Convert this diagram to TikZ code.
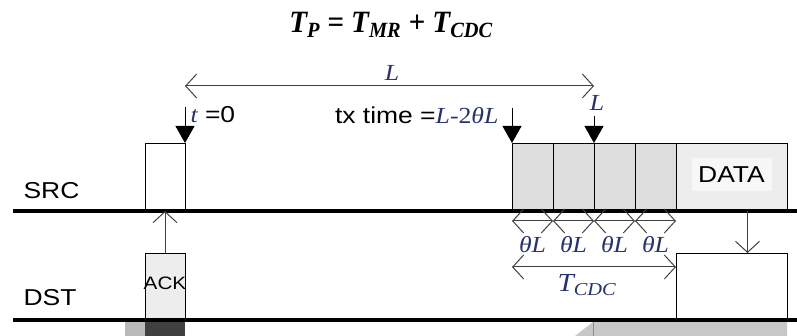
\documentclass[tikz,border=0pt]{standalone}
\usepackage{fontspec}
\setmainfont{Liberation Sans}[FakeStretch=1.15]
\newfontfamily\tms{Liberation Serif}[FakeStretch=1.12]
\newfontfamily\ttl{Liberation Serif}[FakeStretch=0.94]
\usepackage{xcolor}
\usepackage{tikz}
\usetikzlibrary{arrows.meta,positioning}

\definecolor{mathblue}{RGB}{40,50,110}
\newcommand{\lblfont}{\fontsize{23}{27}\selectfont}
\newcommand{\mathlbl}[1]{{\tms\itshape\color{mathblue}#1}}

\begin{document}
\begin{tikzpicture}[x=1pt, y=1pt, every node/.style={font=\lblfont},
  frame/.style={draw, line width=0.9pt, inner sep=0pt, outer sep=0pt, anchor=south west},
  cell/.style={frame, fill=black!13, minimum width=41pt, minimum height=68pt},
  axis/.style={line width=3.5pt},
  dim/.style={black!75, line width=1pt, {Straight Barb[length=11pt,width=24pt]}-{Straight Barb[length=11pt,width=24pt]}},
  signal/.style={black!75, line width=1pt, -{Straight Barb[length=11pt,width=24pt]}},
  pointer/.style={line width=0.9pt, -{Triangle[length=17pt,width=19pt]}}]

\useasboundingbox (0,0) rectangle (797,336);

% Title
\node[font=\fontsize{31}{35}\selectfont\ttl\bfseries\itshape] (title) at (391,311)
  {T\textsubscript{P} = T\textsubscript{MR} + T\textsubscript{CDC}};

% SRC and DST lines
\coordinate (srcL) at (13,125);
\coordinate (srcR) at (797,125);
\coordinate (dstL) at (13,16);
\coordinate (dstR) at (797,16);
\node[anchor=west] (src) at (20,145) {SRC};
\node[anchor=west] (dst) at (20,38) {DST};

% Bottom strips (next slots)
\fill[black!27] (125,0) rectangle (145,14);
\fill[black!75] (145,0) rectangle (185,14);
\fill[black!22] (575,0) -- (593,14) -- (787,14) -- (787,0) -- cycle;
\draw[black!45, line width=0.9pt] (593,0) -- (593,14);

% RTS box and ACK
\node[frame, minimum width=40pt, minimum height=68pt] (rts) at (145,125) {};
\node[frame, fill=black!7, minimum width=40pt, minimum height=67pt] (ack) at (145,16) {};
\node (acktxt) at (ack.center) [yshift=3pt, font=\fontsize{18}{21}\selectfont] {ACK};

% Contention cells and DATA
\node[cell] (c1) at (512,125) {};
\node[cell] (c2) at (c1.south east) {};
\node[cell] (c3) at (c2.south east) {};
\node[cell] (c4) at (c3.south east) {};
\node[frame, fill=black!7, minimum width=111pt, minimum height=68pt] (data) at (c4.south east) {};
\node[fill=white!97!black, inner sep=0pt, minimum width=80pt, minimum height=33pt] (datatxt)
  at ([yshift=2pt]data.center) {DATA};
\node[frame, minimum width=111pt, minimum height=67pt] (rx) at (676,16) {};

\draw[axis] (srcL) -- (srcR);
\draw[axis] (dstL) -- (dstR);

% Frame length L
\draw[dim] ([yshift=57pt]rts.north east) -- ([yshift=57pt]c3.north west);
\node (Llbl) at (392,263) {\mathlbl{L}};

% t = 0
\draw[pointer] ([yshift=36pt]rts.north east) -- (rts.north east);
\node[anchor=west] (t0) at (187,221) {\mathlbl{t} =0};

% tx time
\node[anchor=east] (txlbl) at (502,221) {tx time =\mathlbl{L}{\color{mathblue}\tms -2}\mathlbl{θL}};
\draw[pointer] ([yshift=35pt]c1.north west) -- (c1.north west);

% L marker
\node (Ltop) at (597,233) {\mathlbl{L}};
\draw[pointer] ([yshift=-2pt]Ltop.south -| c3.north west) -- (c3.north west);

% theta L spans
\foreach \c [count=\i] in {c1,c2,c3,c4} {
  \draw[dim] ([yshift=-10pt]\c.south west) -- ([yshift=-10pt]\c.south east);
  \node (th\i) at ([yshift=-34pt]\c.south) {\mathlbl{θL}};
}

% T_CDC
\draw[dim] ([yshift=-56pt]c1.south west) -- ([yshift=-56pt]c4.south east);
\node[font=\fontsize{26}{31}\selectfont] (tcdc) at (587,51) {\mathlbl{T\textsubscript{CDC}}};

% ACK -> SRC, DATA -> DST
\draw[signal] (ack.north) -- (ack.north |- srcL);
\draw[signal] ([xshift=16pt]data.south) -- ([xshift=16pt]rx.north);

\end{tikzpicture}
\end{document}
